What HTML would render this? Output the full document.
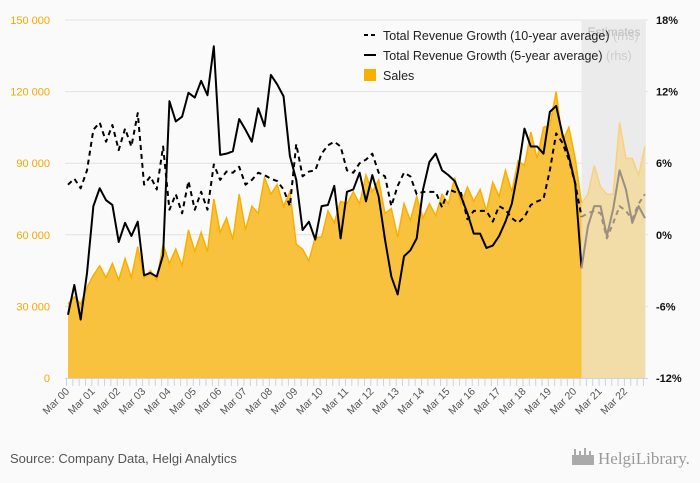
<!DOCTYPE html>
<html><head><meta charset="utf-8"><style>
body{margin:0;background:#fafafa;font-family:"Liberation Sans",sans-serif}
svg{display:block}
</style></head><body>
<svg id="chart" width="700" height="483" viewBox="0 0 700 483" xmlns="http://www.w3.org/2000/svg">
<rect width="700" height="483" fill="#fafafa"/>
<g id="grid"></g>
<rect id="est" fill="#ebebeb"/>
<text x="614" y="36" font-size="12" fill="#bbb" text-anchor="middle">Estimates</text>
<g id="marks"></g>
<g id="axes"></g>
<g font-size="12.5" fill="#222">
<line x1="364" y1="35" x2="376" y2="35" stroke="#000" stroke-width="2" stroke-dasharray="4,3"/>
<text x="383" y="40">Total Revenue Growth (10-year average) <tspan fill="#ccc">(rhs)</tspan></text>
<line x1="364" y1="55" x2="376" y2="55" stroke="#000" stroke-width="2"/>
<text x="383" y="60">Total Revenue Growth (5-year average) <tspan fill="#ccc">(rhs)</tspan></text>
<rect x="364" y="69" width="12" height="12" fill="#f8b000"/>
<text x="383" y="80">Sales</text>
</g>
<text x="10" y="463" font-size="13" fill="#555">Source: Company Data, Helgi Analytics</text>
<text x="598" y="464" font-size="17" fill="#999" font-family="Liberation Serif, serif">HelgiLibrary.</text>
<g fill="#aaa"><rect x="572" y="455" width="22" height="10"/><rect x="574" y="449" width="2" height="6"/><rect x="579" y="451" width="2" height="4"/><rect x="584" y="448" width="2" height="7"/><rect x="589" y="451" width="2" height="4"/></g>
</svg>
<script>
const sales=[31,34,31,38,43,47,42,48,41,50,42,55,42,45,41,56,48,54,47,62,53,61,53,75,61,67,58,77,62,72,69,84,77,81,72,78,56,54,49,59,59,70,65,74,73,78,73,85,78,83,69,71,59,73,66,76,67,73,68,77,73,84,73,80,74,79,70,82,76,87,78,91,89,103,92,105,106,120,99,105,92,73,77,89,80,77,77,107,92,92,85,97];
const growth10=[4.2,4.7,3.9,5.4,8.8,9.4,7.8,9.2,7.1,8.9,7.4,10.2,4.2,4.9,3.8,7.4,2.1,3.4,1.8,4.5,2.1,3.6,2.1,5.9,4.6,5.3,5.2,5.7,4.2,4.6,5.2,5.0,4.7,4.5,3.8,2.4,7.6,4.9,5.3,5.4,6.8,7.5,7.8,7.4,5.4,5.2,6.0,6.3,6.8,5.2,4.9,2.4,4.1,5.2,4.9,3.4,3.6,3.6,3.6,2.3,3.8,3.6,3.5,1.3,2.0,2.0,2.0,1.1,2.4,2.1,1.4,1.0,1.5,2.5,2.8,3.0,5.4,8.5,7.7,6.3,4.3,1.5,1.8,2.0,1.8,-0.3,1.0,2.4,2.0,1.3,2.6,3.4];
const growth5=[-6.7,-4.2,-7.1,-3.2,2.4,3.9,2.9,2.5,-0.6,1.0,-0.1,1.1,-3.4,-3.2,-3.5,-1.7,11.2,9.5,9.9,11.9,11.5,12.9,11.7,15.8,6.7,6.8,7.0,9.7,8.8,7.8,10.6,9.1,13.4,12.6,11.6,6.6,4.6,0.4,1.1,-0.4,2.4,2.5,4.1,-0.3,3.6,3.8,5.2,2.8,5.0,3.2,-0.4,-3.5,-5.0,-1.8,-1.3,-0.3,3.8,6.1,6.8,5.4,5.0,4.5,3.2,1.8,0.1,0.1,-1.1,-0.9,-0.1,1.1,2.6,5.4,8.9,7.4,7.4,6.8,10.3,10.8,8.4,6.6,4.3,-2.8,0.7,2.4,2.4,-0.1,2.2,5.4,3.8,1.0,2.4,1.4];
const leftTicks=[0,30000,60000,90000,120000,150000];
const leftLabels=["0","30 000","60 000","90 000","120 000","150 000"];
const rightTicks=[-12,-6,0,6,12,18];
const rightLabels=["-12%","-6%","0%","6%","12%","18%"];
const firstEstimate=81;
const NS="http://www.w3.org/2000/svg";
const x0=68,step=6.34,yB=378,yT=20;
const X=i=>x0+i*step;
const YL=v=>yB-(v*1000)/150000*(yB-yT);
const YR=p=>yB-(p+12)/30*(yB-yT);
function mk(t,a,p){const e=document.createElementNS(NS,t);for(const k in a)e.setAttribute(k,a[k]);p.appendChild(e);return e;}
const grid=document.getElementById('grid'),marks=document.getElementById('marks'),axes=document.getElementById('axes');
leftTicks.forEach((v,i)=>{const y=yB-v/150000*(yB-yT);
 if(v>0){const l=mk('line',{x1:65,x2:648,y1:y,y2:y,stroke:'#e2e2e2'},grid);
 
 }
 const t=mk('text',{x:50,y:y+4,'text-anchor':'end','font-size':11,fill:'#f5a800'},axes);t.textContent=leftLabels[i];
 
 });
rightTicks.forEach((p,i)=>{const t=mk('text',{x:656,y:YR(p)+4,'font-size':11,'font-weight':'bold',fill:'#111'},axes);t.textContent=rightLabels[i];
 
 });
const n=sales.length;
const est=document.getElementById('est');
est.setAttribute('x',X(firstEstimate));est.setAttribute('y',yT);est.setAttribute('width',X(n-1)-X(firstEstimate)+1);est.setAttribute('height',yB-yT);
function area(a,b,fill,stroke,name){let d='M'+X(a)+','+yB;for(let i=a;i<=b;i++)d+='L'+X(i)+','+YL(sales[i]);d+='L'+X(b)+','+yB+'Z';
 const p=mk('path',{d:d,fill:fill},marks);
 
 
 let d2='';for(let i=a;i<=b;i++)d2+=(i==a?'M':'L')+X(i)+','+YL(sales[i]);
 mk('path',{d:d2,fill:'none',stroke:stroke,'stroke-width':1.5},marks);}
area(0,firstEstimate,'#f8c23e','#f8b000','sales-area');
area(firstEstimate,n-1,'#f2dca8','#f6d27f','sales-estimate-area');
function line(arr,a,b,col,dash,name){let d='';for(let i=a;i<=b;i++)d+=(i==a?'M':'L')+X(i)+','+YR(arr[i]);
 const p=mk('path',{d:d,fill:'none',stroke:col,'stroke-width':2,'stroke-dasharray':dash,'stroke-linejoin':'round'},marks);
 
 }
line(growth10,0,firstEstimate,'#000','5,4','growth-10y-line');
line(growth10,firstEstimate,n-1,'#9a8f80','5,4','growth-10y-estimate-line');
line(growth5,0,firstEstimate,'#000','none','growth-5y-line');
line(growth5,firstEstimate,n-1,'#9a8f80','none','growth-5y-estimate-line');
mk('line',{x1:65,x2:648,y1:yB+0.5,y2:yB+0.5,stroke:'#c8d4e6'},axes);
for(let i=0;i<n;i++){mk('line',{x1:X(i)-1.5,x2:X(i)-1.5,y1:yB,y2:yB+8,stroke:'#c8d4e6'},axes);}
for(let i=0;i<n;i+=4){const yr=String(i/4).padStart(2,'0');const xx=X(i)+2,yy=yB+14;
 const t=mk('text',{x:xx,y:yy,'font-size':10.5,fill:'#555','text-anchor':'end',transform:'rotate(-45 '+xx+' '+yy+')'},axes);t.textContent='Mar '+yr;
 
 }
</script>
</body></html>
